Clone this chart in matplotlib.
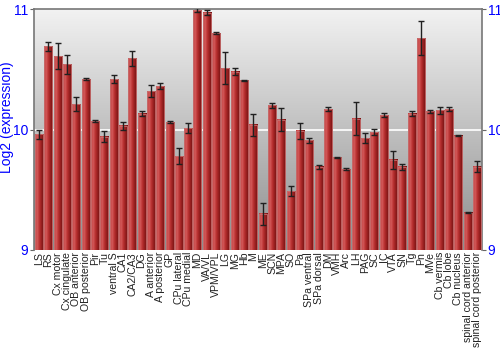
import numpy as np
import matplotlib
matplotlib.use('Agg')
import matplotlib.pyplot as plt
from matplotlib.colors import LinearSegmentedColormap

regions = ['LS', 'RS', 'Cx motor', 'Cx cingulate', 'OB anterior', 'OB posterior',
           'Pir', 'Tu', 'ventral S', 'CA1', 'CA2/CA3', 'DG', 'A anterior',
           'A posterior', 'GP', 'CPu lateral', 'CPu medial', 'MD', 'VA/VL',
           'VPM/VPL', 'LG', 'MG', 'Hb', 'M', 'ME', 'SCN', 'MPA', 'SO', 'Pa',
           'SPa ventral', 'SPa dorsal', 'DM', 'VMH', 'Arc', 'LH', 'PAG', 'SC',
           'IC', 'VTA', 'SN', 'Tg', 'Pn', 'MVe', 'Cb vermis', 'Cb lobe',
           'Cb nucleus', 'spinal cord anterior', 'spinal cord posterior']

expr = [9.96, 10.69, 10.61, 10.54, 10.21, 10.42,
        10.07, 9.94, 10.42, 10.03, 10.59, 10.13, 10.32,
        10.36, 10.06, 9.78, 10.01, 10.99, 10.97,
        10.80, 10.51, 10.48, 10.41, 10.04, 9.30, 10.20, 10.08, 9.49, 9.99,
        9.91, 9.69, 10.17, 9.77, 9.67, 10.09, 9.93, 9.98,
        10.12, 9.75, 9.69, 10.13, 10.76, 10.15, 10.16, 10.17,
        9.95, 9.31, 9.69]

err = [0.04, 0.035, 0.11, 0.08, 0.06, 0.01,
       0.005, 0.045, 0.03, 0.03, 0.065, 0.02, 0.047,
       0.025, 0.01, 0.07, 0.04, 0.015, 0.02,
       0.01, 0.13, 0.03, 0.005, 0.09, 0.09, 0.02, 0.095, 0.04, 0.065,
       0.02, 0.015, 0.02, 0.005, 0.01, 0.135, 0.04, 0.025,
       0.02, 0.075, 0.024, 0.02, 0.14, 0.01, 0.03, 0.02,
       0.005, 0.005, 0.045]

BLUE = '#0000ff'

fig = plt.figure(figsize=(5, 3.5), dpi=100)
ax = fig.add_axes([0.068, 0.286, 0.896, 0.688])

n = len(regions)
x = np.arange(n)
ymin, ymax = 9, 11
ax.set_xlim(-0.55, n - 0.45)
ax.set_ylim(ymin, ymax)

# fondo con degradado vertical
bg = LinearSegmentedColormap.from_list('bg', ['#8e8e8e', '#f2f2f2'])
ax.imshow(np.linspace(0, 1, 256).reshape(-1, 1), cmap=bg, aspect='auto',
          extent=[-0.55, n - 0.45, ymin, ymax], origin='lower', zorder=0)

ax.axhline(10, color='white', lw=1.2, zorder=1)

# barras con efecto cilindrico
bar_cm = LinearSegmentedColormap.from_list(
    'bar', ['#bc4040', '#d45a5a', '#b83030', '#941e1e', '#701212'])
grad = np.linspace(0, 1, 64).reshape(1, -1)
w = 0.86
for xi, v in zip(x, expr):
    ax.imshow(grad, cmap=bar_cm, aspect='auto',
              extent=[xi - w / 2, xi + w / 2, ymin, v], zorder=2)
    ax.add_patch(plt.Rectangle((xi - w / 2, ymin), w, v - ymin, fill=False,
                               edgecolor='#c87070', lw=0.6, zorder=3))

ax.errorbar(x, expr, yerr=err, fmt='none', ecolor='#202020', elinewidth=1,
            capsize=2.5, capthick=1, zorder=4)

ax.set_xticks(x)
ax.set_xticklabels(regions, rotation=90, fontsize=7.6, color='#222222',
                   family='Liberation Sans')
ax.tick_params(axis='x', length=0, pad=1.5)

ax.set_yticks([9, 10, 11])
ax.tick_params(axis='y', colors='#666666', labelcolor=BLUE, labelsize=10,
               length=3, direction='out', left=True, right=True,
               labelleft=True, labelright=True, pad=1)
for lab in ax.get_yticklabels():
    lab.set_family('Liberation Sans')
ax.set_ylabel('Log2 (expression)', color=BLUE, fontsize=10,
              family='Liberation Sans')
ax.yaxis.set_label_coords(-0.044, 0.55)

for s in ['left', 'right', 'top']:
    ax.spines[s].set_color('#777777')
    ax.spines[s].set_linewidth(1.2)
ax.spines['bottom'].set_visible(False)

fig.savefig('out.png', dpi=100)
